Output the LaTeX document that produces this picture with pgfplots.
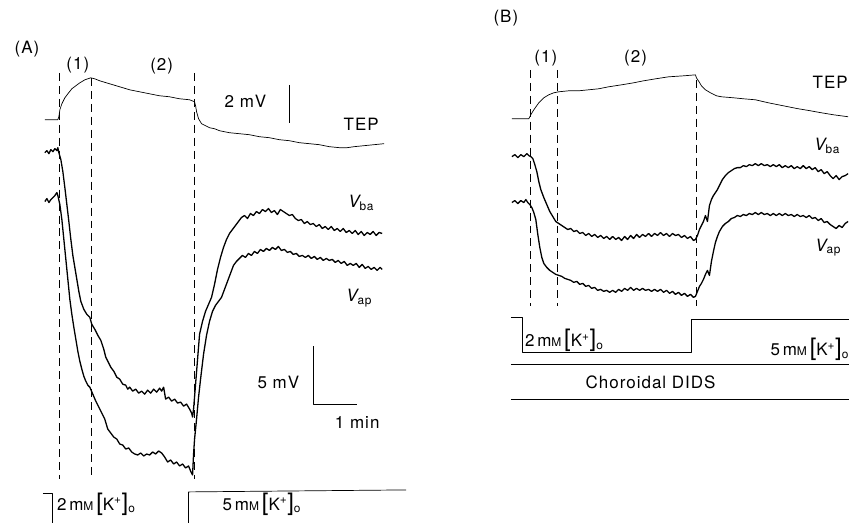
\documentclass[border=0pt]{standalone}
\usepackage{fontspec}
\setmainfont{TeX Gyre Heros}[LetterSpace=6]
\usepackage{pgfplots}
\pgfplotsset{compat=1.18}

\newcommand{\bigbr}[1]{{\fontsize{24}{24}\selectfont #1}}
\newcommand{\kcon}[1]{#1\,m{\fontsize{12}{12}\selectfont M}\,\bigbr{[}K\textsuperscript{+}\bigbr{]}\textsubscript{o}}
\tikzset{
  trace/.style={line width=0.7pt},
  noisy/.style={line width=1.3pt},
  dashline/.style={line width=0.6pt, dash pattern=on 8pt off 5pt},
  lbl/.style={font=\fontsize{17}{19}\selectfont},
}

\begin{document}
\begin{tikzpicture}
\begin{axis}[
  width=851pt, height=524pt, scale only axis,
  xmin=0, xmax=851, ymin=0, ymax=524, y dir=reverse,
  hide axis, clip=false,
  every axis plot/.append style={black, line join=round},
]
% frame keeper
\addplot[draw=none] coordinates {(0,0) (851,524)};

% ---------------- panel A ----------------
% dashed markers
\addplot[dashline] coordinates {(59,73) (59,480)};
\addplot[dashline] coordinates {(91,78) (91,480)};
\addplot[dashline] coordinates {(195,73) (195,480)};

% TEP
\addplot[trace] coordinates {
(45,120)(58,120)(59,117)(60,110)(62,104)(65,98)(68,94)(72,89)(76,86)(80,83)(85,80)(91,78)
(95,79)(100,81)(110,84)(120,87)(130,90)(140,92)(150,94)(160,96)(170,97)(180,99)(190,100)
(195,102)(196,106)(197,112)(199,119)(202,124)(206,126)(210,128)(215,129)(220,131)(230,133)
(240,134)(250,135)(260,137)(270,138)(280,140)(290,141)(300,143)(310,144)(320,145)(330,147)
(340,148)(348,148)(355,147)(365,146)(375,145)(385,144)};

% V_ba
\addplot[noisy] coordinates {
(45,153)(47,151)(49,154)(51,150)(53,152)(55,149)(57,151)(58,148)(59,153)(61,160)(63,172)
(65,188)(67,205)(69,222)(71,240)(73,256)(75,268)(77,280)(79,292)(81,302)(84,310)(87,315)
(90,318)(92,325)(95,330)(98,336)(101,341)(104,350)(106,358)(108,362)(111,368)(114,372)
(117,378)(120,380)(123,385)(126,386)(128,390)(130,388)(133,392)(136,390)(139,394)(142,392)
(145,395)(148,391)(151,394)(154,390)(157,393)(160,389)(162,392)(164,388)(166,400)(169,398)
(172,402)(175,400)(178,404)(181,403)(184,407)(187,405)(190,410)(192,414)(193,418)
(194,410)(196,385)(198,360)(200,335)(203,322)(206,312)(209,305)(212,298)(215,285)(218,270)
(221,258)(224,248)(227,240)(230,234)(233,230)(236,226)(239,222)(242,218)(245,216)(248,219)
(251,214)(254,216)(257,212)(260,214)(263,210)(266,212)(269,209)(272,213)(275,211)(278,215)
(281,210)(284,212)(287,214)(290,216)(293,215)(296,219)(299,221)(302,220)(305,224)(308,222)
(311,225)(314,224)(317,227)(320,225)(323,229)(326,227)(329,230)(332,227)(335,231)(338,229)
(341,232)(344,229)(347,233)(350,231)(353,234)(356,231)(359,235)(362,232)(365,236)(368,233)
(371,235)(374,232)(377,236)(380,233)(383,234)};

% V_ap
\addplot[noisy] coordinates {
(45,202)(47,199)(49,203)(51,200)(53,198)(55,196)(57,193)(58,196)(60,205)(62,220)(64,240)
(66,260)(68,280)(70,300)(72,315)(74,328)(76,340)(78,352)(80,362)(82,370)(84,377)(86,382)
(88,386)(90,388)(93,395)(96,402)(99,408)(102,414)(105,420)(108,430)(111,434)(114,438)
(117,440)(120,445)(123,446)(126,450)(129,449)(132,453)(135,455)(138,456)(141,454)(144,457)
(147,455)(150,456)(153,453)(156,455)(159,452)(162,454)(165,458)(168,463)(171,461)(174,465)
(177,463)(180,467)(183,465)(186,469)(189,467)(191,472)(193,476)
(194,455)(195,440)(197,420)(199,398)(201,380)(204,355)(207,336)(210,322)(213,312)(216,306)
(219,302)(222,298)(225,290)(228,282)(231,274)(234,266)(237,262)(240,259)(243,256)(246,258)
(249,254)(252,256)(255,252)(258,254)(261,250)(264,252)(267,249)(270,251)(273,248)(276,250)
(279,247)(282,251)(285,250)(288,253)(291,252)(294,255)(297,254)(300,257)(303,256)(306,258)
(309,256)(312,259)(315,257)(318,260)(321,258)(324,261)(327,259)(330,261)(333,260)(336,263)
(339,261)(342,264)(345,262)(348,266)(351,264)(354,266)(357,264)(360,268)(363,265)(366,269)
(369,267)(372,270)(375,268)(378,271)(381,268)(383,270)};

% scale bars
\addplot[trace] coordinates {(290,85) (290,123)};
\addplot[trace] coordinates {(314,347) (314,405) (358,405)};

% stimulus
\addplot[trace] coordinates {(43,494) (52,494) (52,524)};
\addplot[trace] coordinates {(189,524) (189,493) (407,491)};

\node[lbl] at (axis cs:27,49) {(A)};
\node[lbl] at (axis cs:78,65) {(1)};
\node[lbl] at (axis cs:162,66) {(2)};
\node[lbl] at (axis cs:246,102) {2 mV};
\node[lbl] at (axis cs:362,125) {TEP};
\node[lbl] at (axis cs:362,203) {{\itshape V}\textsubscript{ba}};
\node[lbl] at (axis cs:360,299) {{\itshape V}\textsubscript{ap}};
\node[lbl] at (axis cs:279,383) {5 mV};
\node[lbl] at (axis cs:358,423) {1 min};
\node[lbl,anchor=west,inner sep=0pt] at (axis cs:57,505) {\kcon{2}};
\node[lbl,anchor=west,inner sep=0pt] at (axis cs:223,505) {\kcon{5}};

% ---------------- panel B ----------------
\addplot[dashline] coordinates {(531,70) (531,307)};
\addplot[dashline] coordinates {(559,70) (559,307)};
\addplot[dashline] coordinates {(698,80) (698,307)};

% TEP
\addplot[trace] coordinates {
(513,119)(530,119)(532,115)(535,110)(540,103)(545,98)(550,95)(555,93)(560,92)(570,91)
(580,91)(590,90)(600,89)(610,87)(623,85)(635,83)(645,81)(657,79)(670,77)(685,76)(697,75)
(698,78)(700,81)(703,86)(707,90)(712,93)(718,96)(723,97)(735,98)(745,99)(757,100)(770,103)
(780,105)(790,107)(800,109)(812,111)(823,113)(835,115)(850,117)};

% V_ba
\addplot[noisy] coordinates {
(513,157)(516,155)(519,158)(522,155)(525,157)(528,154)(530,156)(532,157)(534,159)(536,165)
(538,172)(540,182)(542,190)(545,198)(548,205)(551,212)(554,217)(557,222)(560,224)(563,226)
(566,228)(569,230)(572,229)(575,232)(578,231)(581,234)(584,233)(587,236)(590,234)(593,237)
(596,235)(599,238)(602,236)(605,239)(608,237)(611,240)(614,237)(617,240)(620,238)(623,241)
(626,237)(629,240)(632,236)(635,239)(638,235)(641,238)(644,235)(647,237)(650,234)(653,237)
(656,234)(659,236)(662,233)(665,236)(668,234)(671,237)(674,234)(677,236)(680,235)(683,238)
(686,236)(689,239)(692,237)(695,241)(697,240)
(699,236)(701,230)(703,226)(705,222)(707,216)(709,222)(711,206)(713,200)(715,196)(717,193)
(719,190)(721,186)(724,180)(727,176)(730,173)(733,171)(736,169)(739,168)(742,168)(745,166)
(748,167)(751,165)(754,166)(757,164)(760,166)(763,164)(766,166)(769,165)(772,167)(775,165)
(778,167)(781,165)(784,168)(787,166)(790,168)(793,166)(796,169)(799,167)(802,169)(805,166)
(808,169)(811,167)(814,170)(817,168)(820,172)(823,170)(826,174)(829,172)(832,176)(835,179)
(838,176)(841,180)(844,177)(847,176)(850,174)};

% V_ap
\addplot[noisy] coordinates {
(513,203)(516,201)(519,204)(522,201)(525,203)(527,200)(529,203)(531,205)(533,208)(535,213)
(537,220)(539,235)(541,248)(543,258)(545,264)(548,268)(551,271)(554,273)(557,275)(560,276)
(563,277)(566,279)(569,280)(572,281)(575,283)(578,282)(581,285)(584,284)(587,287)(590,286)
(593,289)(596,288)(599,291)(602,290)(605,292)(608,291)(611,293)(614,291)(617,293)(620,290)
(623,292)(626,289)(629,291)(632,288)(635,291)(638,289)(641,291)(644,289)(647,291)(650,290)
(653,292)(656,290)(659,292)(662,290)(665,293)(668,291)(671,294)(674,292)(677,295)(680,293)
(683,296)(686,294)(689,297)(692,295)(695,298)(697,297)
(699,292)(701,287)(703,284)(705,280)(707,275)(709,271)(711,276)(713,262)(715,252)(717,243)
(719,237)(721,232)(724,227)(727,224)(730,222)(733,219)(736,218)(739,216)(742,217)(745,215)
(748,216)(751,214)(754,215)(757,213)(760,215)(763,213)(766,215)(769,214)(772,216)(775,214)
(778,216)(781,214)(784,216)(787,214)(790,216)(793,215)(796,217)(799,215)(802,217)(805,216)
(808,218)(811,216)(814,219)(817,218)(820,221)(823,219)(826,223)(829,222)(832,225)(835,227)
(838,229)(841,226)(844,228)(847,224)(850,222)};

% stimulus and DIDS bars
\addplot[trace] coordinates {(512,318) (523,318) (523,353) (693,353) (693,320) (851,320)};
\addplot[trace] coordinates {(512,365) (851,365)};
\addplot[trace] coordinates {(512,400) (851,400)};

\node[lbl] at (axis cs:507,18) {(B)};
\node[lbl] at (axis cs:547,58) {(1)};
\node[lbl] at (axis cs:637,58) {(2)};
\node[lbl] at (axis cs:832,82) {TEP};
\node[lbl] at (axis cs:829,146) {{\itshape V}\textsubscript{ba}};
\node[lbl] at (axis cs:830,248) {{\itshape V}\textsubscript{ap}};
\node[lbl,anchor=west,inner sep=0pt] at (axis cs:526,341) {\kcon{2}};
\node[lbl,anchor=east,inner sep=0pt] at (axis cs:851,350) {\kcon{5}};
\node[lbl] at (axis cs:652,383) {Choroidal DIDS};
\end{axis}
\end{tikzpicture}
\end{document}
